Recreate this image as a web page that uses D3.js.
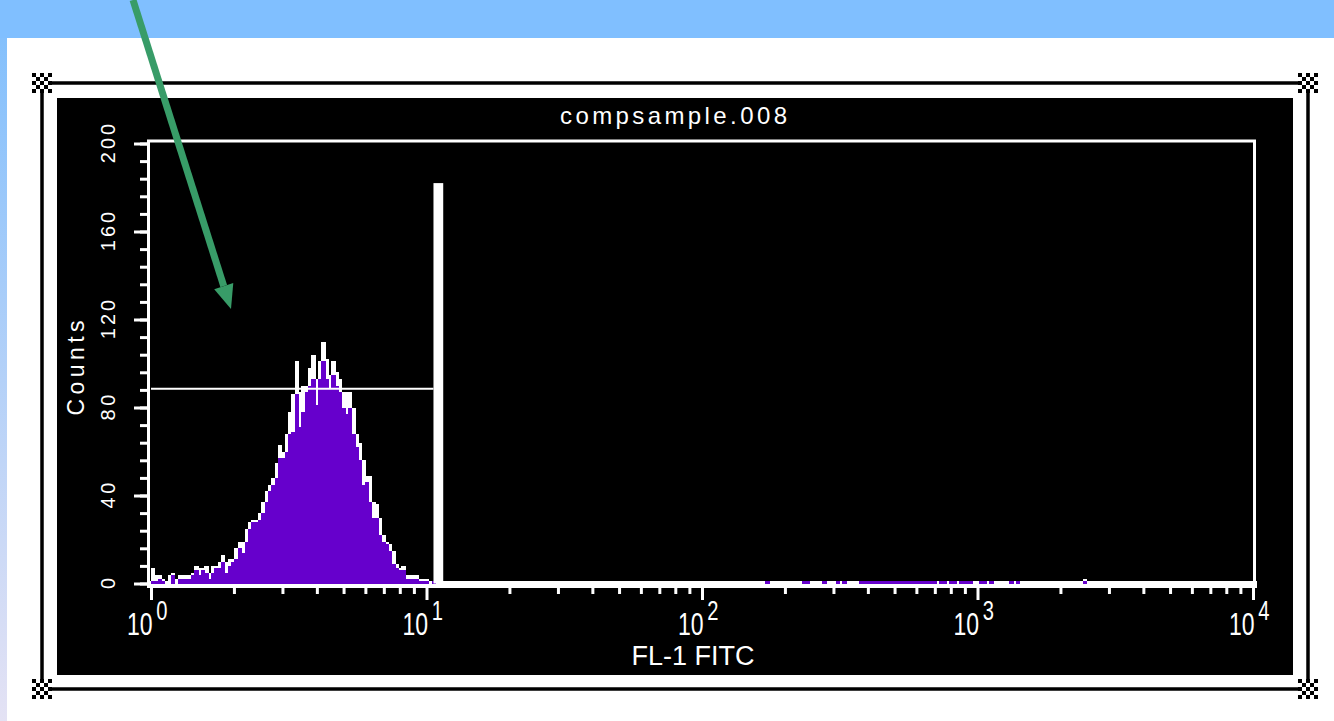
<!DOCTYPE html>
<html>
<head>
<script src="https://d3js.org/d3.v7.min.js"></script>
<style>
body { margin: 0; overflow: hidden; background: #fff; }
text { font-family: "Liberation Sans", Arial, sans-serif; fill: #fff; }
</style>
</head>
<body>
<script>

var w = 1334, h = 721;

// log channels: 82.5 bins per decade, 4 decades
var binsPerDecade = 82.5;

// all events (white outline), bins 0..84
var allEvents = [7,4,4,2,1,4,5,2,4,4, 4,4,5,8,7,7,8,5,8,8,
  10,13,10,11,11,16,19,19,25,28, 29,29,32,37,42,45,48,55,63,60,
  68,78,86,101,87,90,90,98,104,93, 101,110,102,95,101,96,93,87,87,87,
  80,68,64,56,49,49,37,36,30,22, 19,18,15,9,7,8,4,4,4,4, 2,2,2,0,0];

// gated events (purple), bins 0..84
var gatedEvents = [1,1,2,1,0,0,4,0,2,2, 2,2,4,6,4,6,5,2,5,7,
  7,10,5,8,10,11,16,14,19,25, 28,28,29,32,37,42,45,48,57,57,
  60,68,69,86,71,78,87,90,93,81, 93,101,93,89,95,90,87,80,77,80,
  68,62,56,45,46,37,30,30,22,19, 18,15,9,7,6,6,2,2,2,2, 1,1,1,0,1];

// scattered events far right
var tailBins = [184,195,196,201,205,207,212,213,214,215,216,217,218,219,220,221,222,223,
  224,225,226,227,228,229,230,231,232,233,234,236,237,239,240,242,243,244,245,
  248,249,251,257,259,279];
var tailGated = [1,1,1,1,1,1,1,1,1,1,1,1,1,1,1,1,1,1,1,1,1,1,1,1,1,1,1,1,1,1,1,1,1,1,1,1,1,1,1,1,1,1,1];
var tailAll   = [1,1,1,1,1,1,1,1,1,1,1,1,1,1,1,1,1,1,1,1,1,1,1,1,1,1,1,1,1,1,1,1,1,1,1,1,1,1,1,1,1,1,2];

var decades = [0, 1, 2, 3, 4];
var yTicks = [0, 40, 80, 120, 160, 200];
var markerRange = [1, 10.6], markerCount = 88.5;
var gateRange = [10.6, 11.5], gateCount = 182;

var purple = "#6600cc";

var svg = d3.select("body").append("svg").attr("width", w).attr("height", h);

// window background
var defs = svg.append("defs");
var grad = defs.append("linearGradient").attr("id", "side").attr("x1", 0).attr("y1", 0).attr("x2", 0).attr("y2", 1);
grad.append("stop").attr("offset", "0%").attr("stop-color", "#84c0fc");
grad.append("stop").attr("offset", "100%").attr("stop-color", "#e4e2f4");

svg.append("rect").attr("width", w).attr("height", h).attr("fill", "#fff");
svg.append("rect").attr("width", w).attr("height", 38).attr("fill", "#80bfff");
svg.append("rect").attr("x", 0).attr("y", 38).attr("width", 7).attr("height", h - 38).attr("fill", "url(#side)");

// selection frame with handles
var fr = {l: 42, t: 83, r: 1308, b: 689};
svg.append("rect").attr("x", fr.l).attr("y", fr.t).attr("width", fr.r - fr.l).attr("height", fr.b - fr.t)
  .attr("fill", "none").attr("stroke", "#000").attr("stroke-width", 3.5);
[[fr.l, fr.t], [fr.r, fr.t], [fr.l, fr.b], [fr.r, fr.b]].forEach(function(c){
  var g = svg.append("g").attr("transform", "translate(" + (c[0] - 10) + "," + (c[1] - 10) + ")")
    .attr("shape-rendering", "crispEdges");
  g.append("rect").attr("width", 20).attr("height", 20).attr("fill", "#fff");
  for (var i = 0; i < 5; i++) for (var j = 0; j < 5; j++) {
    if ((i + j) % 2 == 0 || (i == 2 && j == 2)) g.append("rect").attr("x", i * 4).attr("y", j * 4).attr("width", 4).attr("height", 4).attr("fill", "#000");
  }
});

// black panel
svg.append("rect").attr("x", 57).attr("y", 98).attr("width", 1236).attr("height", 577).attr("fill", "#000");

var x = d3.scaleLog().domain([1, 10000]).range([151, 1253]);
var y = d3.scaleLinear().domain([0, 200]).range([583.5, 143.5]);

function lo(k){ return Math.pow(10, k / binsPerDecade); }
function hi(k){ return Math.pow(10, (k + 1) / binsPerDecade); }

// plot box and thick baseline
svg.append("rect").attr("x", 148.5).attr("y", 141).attr("width", 1106).attr("height", 443)
  .attr("fill", "none").attr("stroke", "#fff").attr("stroke-width", 3);
svg.append("rect").attr("x", 147).attr("y", 581).attr("width", 1110).attr("height", 7).attr("fill", "#fff");

var leftBins = allEvents.map(function(d, i){ return {k: i, all: d, gated: gatedEvents[i]}; });
var rightBins = tailBins.map(function(k, i){ return {k: k, all: tailAll[i], gated: tailGated[i]}; });
var bins = leftBins.concat(rightBins);

svg.append("g").attr("shape-rendering", "crispEdges").selectAll("rect")
  .data(bins.filter(function(d){ return d.all > 0; }))
  .enter().append("rect")
  .attr("x", function(d){ return x(lo(d.k)); })
  .attr("width", function(d){ return x(hi(d.k)) - x(lo(d.k)) + 1; })
  .attr("y", function(d){ return y(d.all); })
  .attr("height", function(d){ return y(0) - y(d.all); })
  .attr("fill", "#fff");

svg.append("g").attr("shape-rendering", "crispEdges").selectAll("rect")
  .data(bins.filter(function(d){ return d.gated > 0; }))
  .enter().append("rect")
  .attr("x", function(d){ return x(lo(d.k)); })
  .attr("width", function(d){ return x(hi(d.k)) - x(lo(d.k)) + 1; })
  .attr("y", function(d){ return y(d.gated); })
  .attr("height", function(d){ return y(0) - y(d.gated); })
  .attr("fill", purple);

// marker and gate
svg.append("line").attr("x1", x(markerRange[0])).attr("x2", x(markerRange[1]))
  .attr("y1", y(markerCount)).attr("y2", y(markerCount)).attr("stroke", "#fff").attr("stroke-width", 2);
svg.append("rect").attr("x", x(gateRange[0])).attr("width", x(gateRange[1]) - x(gateRange[0]))
  .attr("y", y(gateCount)).attr("height", y(0) - y(gateCount)).attr("fill", "#fff");

// axes
function styleAxis(g){
  g.select("path.domain").remove();
  g.selectAll("line").attr("stroke", "#fff").attr("stroke-width", 3);
}
var minorY = d3.range(0, 201, 8);
svg.append("g").attr("transform", "translate(147,0)")
  .call(d3.axisLeft(y).tickValues(minorY).tickSize(7).tickFormat("")).call(styleAxis);
svg.append("g").attr("transform", "translate(147,0)")
  .call(d3.axisLeft(y).tickValues(yTicks).tickSize(13).tickFormat("")).call(styleAxis);

var minorX = [];
[0, 1, 2, 3].forEach(function(d){ for (var m = 2; m <= 9; m++) minorX.push(m * Math.pow(10, d)); });
svg.append("g").attr("transform", "translate(0,587)")
  .call(d3.axisBottom(x).tickValues(minorX).tickSize(7).tickFormat("")).call(styleAxis);
svg.append("g").attr("transform", "translate(0,587)")
  .call(d3.axisBottom(x).tickValues(decades.map(function(d){ return Math.pow(10, d); })).tickSize(13).tickFormat("")).call(styleAxis);

// y labels
svg.append("g").selectAll("text").data(yTicks).enter().append("text")
  .attr("transform", function(d){ return "translate(115," + y(d) + ") rotate(-90)"; })
  .attr("text-anchor", "middle").attr("font-size", 20)
  .attr("textLength", function(d){ return String(d).length * 13.5 - 1; })
  .attr("lengthAdjust", "spacing")
  .text(function(d){ return d; });

svg.append("text").attr("transform", "translate(84,368) rotate(-90)")
  .attr("text-anchor", "middle").attr("font-size", 23)
  .attr("textLength", 95).attr("lengthAdjust", "spacing").text("Counts");

// x labels: 10 with superscript exponent, squeezed horizontally
var xl = svg.append("g").selectAll("text").data(decades).enter().append("text")
  .attr("transform", function(d){ return "translate(" + (x(Math.pow(10, d)) - 24) + ",635) scale(0.72,1)"; })
  .attr("font-size", 32);
xl.append("tspan").text("10");
xl.append("tspan").attr("dx", 5).attr("dy", -15).attr("font-size", 28).text(function(d){ return d; });

svg.append("text").attr("x", 693).attr("y", 665).attr("text-anchor", "middle")
  .attr("font-size", 27).text("FL-1 FITC");

svg.append("text").attr("x", 673.5).attr("y", 124).attr("text-anchor", "middle")
  .attr("font-size", 24).attr("textLength", 227).attr("lengthAdjust", "spacing").text("compsample.008");

// pointer arrow
var a0 = [133, 0], tip = [231, 309];
var dx = tip[0] - a0[0], dy = tip[1] - a0[1], len = Math.sqrt(dx * dx + dy * dy);
var ux = dx / len, uy = dy / len;
var bx = tip[0] - 24 * ux, by = tip[1] - 24 * uy;
svg.append("line").attr("x1", a0[0]).attr("y1", a0[1]).attr("x2", bx).attr("y2", by)
  .attr("stroke", "#389c68").attr("stroke-width", 7);
svg.append("polygon").attr("fill", "#389c68")
  .attr("points", [[tip[0], tip[1]], [bx - 10 * uy, by + 10 * ux], [bx + 10 * uy, by - 10 * ux]].map(function(p){ return p.join(","); }).join(" "));

</script>
</body>
</html>
